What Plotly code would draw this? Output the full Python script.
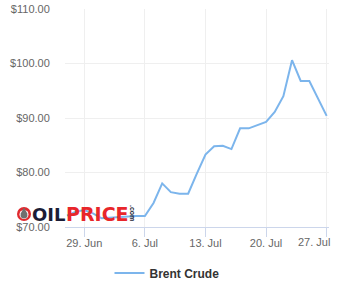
import plotly.graph_objects as go

dates = ["2022-06-27", "2022-06-28", "2022-06-29", "2022-06-30", "2022-07-01",
         "2022-07-02", "2022-07-03", "2022-07-04", "2022-07-05", "2022-07-06",
         "2022-07-07", "2022-07-08", "2022-07-09", "2022-07-10", "2022-07-11",
         "2022-07-12", "2022-07-13", "2022-07-14", "2022-07-15", "2022-07-16",
         "2022-07-17", "2022-07-18", "2022-07-19", "2022-07-20", "2022-07-21",
         "2022-07-22", "2022-07-23", "2022-07-24", "2022-07-25", "2022-07-26",
         "2022-07-27"]
brent = [72.1, 72.8, 73.1, 72.5, 71.6, 71.7, 71.9, 72.0, 72.0, 72.0,
         74.4, 78.0, 76.4, 76.1, 76.1, 79.8, 83.3, 84.8, 84.9, 84.3,
         88.1, 88.1, 88.7, 89.3, 91.1, 94.0, 100.6, 96.8, 96.8, 93.7,
         90.4]
x_tickvals = ["2022-06-29", "2022-07-06", "2022-07-13", "2022-07-20", "2022-07-27"]
x_ticktext = ["29. Jun", "6. Jul", "13. Jul", "20. Jul", "27. Jul"]
y_tickvals = [70, 80, 90, 100, 110]
y_ticktext = ["$70.00", "$80.00", "$90.00", "$100.00", "$110.00"]

W, H = 340, 300
L, R, T, B = 65, 11, 9, 73
PW, PH = W - L - R, H - T - B


def px(x):
    return (x - L) / PW


def py(y):
    return (H - B - y) / PH


fig = go.Figure()
fig.add_trace(go.Scatter(
    x=dates, y=brent, mode="lines", name="Brent Crude",
    line=dict(color="#7cb5ec", width=2),
))

font_family = "Liberation Sans, Arial, sans-serif"
logo_font = "DejaVu Sans, sans-serif"

# last tick label is right-aligned to the plot edge (as in the original)
axis_ticktext = x_ticktext[:-1] + [""]

fig.update_layout(
    width=W, height=H,
    margin=dict(l=L, r=R, t=T, b=B, autoexpand=False),
    paper_bgcolor="white", plot_bgcolor="white",
    font=dict(family=font_family, color="#666666", size=11),
    showlegend=True,
    legend=dict(
        orientation="h", x=px(167), xanchor="center", y=py(273), yanchor="middle",
        font=dict(size=12, color="#333333", family=font_family, weight="bold"),
        itemwidth=30,
    ),
    xaxis=dict(
        type="date", automargin=False,
        range=["2022-06-26 18:30", "2022-07-27 06:30"],
        tickvals=x_tickvals, ticktext=axis_ticktext,
        showgrid=True, gridcolor="#efefef", gridwidth=1,
        showline=True, linecolor="#ccd6eb", linewidth=1,
        ticks="outside", ticklen=9, tickcolor="#ccd6eb",
        ticklabelstandoff=-3,
        tickfont=dict(size=11, color="#666666"),
        zeroline=False, fixedrange=True,
    ),
    yaxis=dict(
        range=[70, 110], automargin=False,
        tickvals=y_tickvals, ticktext=y_ticktext,
        showgrid=True, gridcolor="#efefef", gridwidth=1,
        showline=False, zeroline=False,
        ticks="outside", ticklen=12, tickcolor="rgba(0,0,0,0)",
        tickfont=dict(size=11, color="#666666"),
        fixedrange=True,
    ),
)

fig.add_annotation(xref="paper", yref="paper", x=px(330.5), y=py(241.5),
                   xanchor="right", yanchor="middle", showarrow=False,
                   text=x_ticktext[-1], borderpad=0,
                   font=dict(size=11, color="#666666", family=font_family))

# OILPRICE.com watermark logo
fig.add_shape(type="circle", xref="paper", yref="paper",
              x0=px(17), x1=px(31), y0=py(221), y1=py(207),
              fillcolor="#e0292e", line=dict(width=0), layer="above")
fig.add_shape(type="circle", xref="paper", yref="paper",
              x0=px(19.5), x1=px(28.5), y0=py(219), y1=py(210),
              fillcolor="white", line=dict(width=0), layer="above")
fig.add_shape(type="path", xref="paper", yref="paper",
              path=(f"M {px(24)} {py(207.5)} L {px(27.3)} {py(213.5)} "
                    f"Q {px(28.2)} {py(218.5)} {px(24)} {py(218.5)} "
                    f"Q {px(19.8)} {py(218.5)} {px(20.7)} {py(213.5)} Z"),
              fillcolor="#6f6f6f", line=dict(width=0), layer="above")
fig.add_annotation(xref="paper", yref="paper", x=px(31), y=py(214),
                   xanchor="left", yanchor="middle", showarrow=False,
                   text="<b>OIL</b>", borderpad=0,
                   font=dict(size=18, color="#1b1d36", family=logo_font))
fig.add_annotation(xref="paper", yref="paper", x=px(64.5), y=py(214),
                   xanchor="left", yanchor="middle", showarrow=False,
                   text="<b>PRICE</b>", borderpad=0,
                   font=dict(size=19, color="#e8262b", family=logo_font))
fig.add_annotation(xref="paper", yref="paper", x=px(133), y=py(213),
                   xanchor="center", yanchor="middle", showarrow=False, textangle=90,
                   text="<b>.com</b>", borderpad=0,
                   font=dict(size=7, color="#1b1d36", family=font_family))

fig.write_html("out.html")
